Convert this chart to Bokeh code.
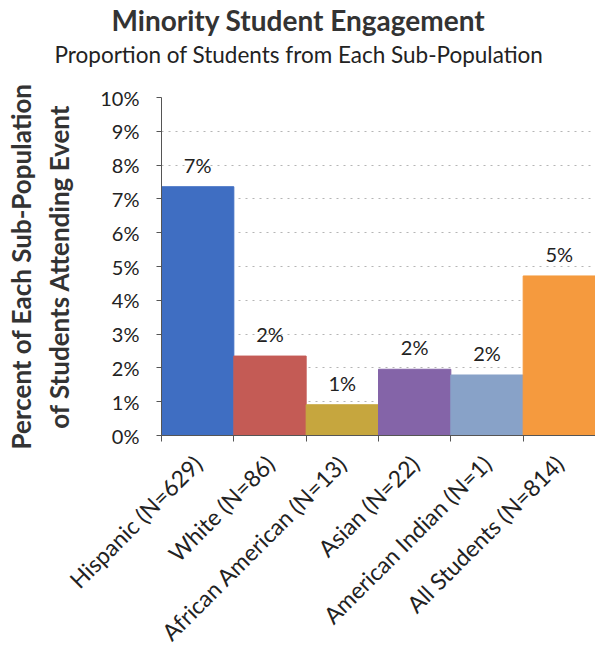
from bokeh.plotting import figure
from bokeh.models import ColumnDataSource, FixedTicker, PrintfTickFormatter, Range1d, Title
from bokeh.core.properties import value
from bokeh.embed import file_html
from bokeh.resources import INLINE

categories = ["Hispanic (N=629)", "White (N=86)", "African American (N=13)",
              "Asian (N=22)", "American Indian (N=1)", "All Students (N=814)"]
percents = [7.36, 2.35, 0.91, 1.96, 1.79, 4.72]
colors = ["#3f6ec2", "#c45b55", "#c6a63e", "#8464a8", "#88a2c8", "#f59a3e"]
y_ticks = [0, 1, 2, 3, 4, 5, 6, 7, 8, 9, 10]

n = len(categories)
xs = [i + 0.5 for i in range(n)]
labels = ["%d%%" % round(v) for v in percents]

src = ColumnDataSource(dict(x=xs, top=percents, color=colors, label=labels))

FONT = "Lato"

p = figure(width=595, height=658, output_backend="svg", toolbar_location=None,
           x_range=Range1d(0, n), y_range=Range1d(0, 10),
           min_border_left=161, min_border_right=0, min_border_top=96,
           min_border_bottom=221)
p.outline_line_color = None
p.background_fill_color = "white"
p.border_fill_color = "white"

# spacer between frame and subtitle
p.add_layout(Title(text=" ", text_font=FONT, text_font_size="16px",
                   align="left", standoff=7), "above")
p.add_layout(Title(text="Proportion of Students from Each Sub-Population",
                   text_font=FONT, text_font_size="22.5px", text_font_style="normal",
                   text_color="#222222", align="left", offset=-107, standoff=4), "above")
p.add_layout(Title(text="Minority Student Engagement",
                   text_font=FONT, text_font_size="28px", text_font_style="bold",
                   text_color="#333333", align="left", offset=-50, standoff=0), "above")

p.vbar(x="x", top="top", width=1.0, bottom=0, source=src, fill_color="color",
       line_color="color", line_width=1)
p.text(x="x", y="top", text="label", source=src, text_align="center",
       text_baseline="middle", y_offset=-22, text_font=value(FONT),
       text_font_size="20px", text_color="#222222")

# grid
p.xgrid.grid_line_color = None
p.ygrid.ticker = FixedTicker(ticks=y_ticks)
p.ygrid.grid_line_color = "#b5b5b5"
p.ygrid.grid_line_dash = "2 5"
p.ygrid.grid_line_width = 1

# y axis
p.yaxis.ticker = FixedTicker(ticks=y_ticks)
p.yaxis.formatter = PrintfTickFormatter(format="%d%%")
p.yaxis.major_label_text_font = FONT
p.yaxis.major_label_text_font_size = "20px"
p.yaxis.major_label_text_color = "#222222"
p.yaxis.major_label_standoff = 17
p.yaxis.axis_line_color = "#555555"
p.yaxis.major_tick_line_color = "#555555"
p.yaxis.major_tick_out = 5
p.yaxis.major_tick_in = 0
p.yaxis.minor_tick_line_color = None
p.yaxis.axis_label = "Percent of Each Sub-Population\nof Students Attending Event"
p.yaxis.axis_label_text_font = FONT
p.yaxis.axis_label_text_font_size = "26px"
p.yaxis.axis_label_text_font_style = "bold"
p.yaxis.axis_label_text_color = "#333333"
p.yaxis.axis_label_standoff = 22

# x axis: labels at centers, ticks at boundaries
p.xaxis.ticker = FixedTicker(ticks=xs, minor_ticks=list(range(n + 1)))
p.xaxis.major_label_overrides = {x: c for x, c in zip(xs, categories)}
p.xaxis.major_label_orientation = 0.785
p.xaxis.major_label_text_font = FONT
p.xaxis.major_label_text_font_size = "23px"
p.xaxis.major_label_text_color = "#222222"
p.xaxis.major_label_standoff = 18
p.xaxis.major_tick_line_color = None
p.xaxis.minor_tick_line_color = "#555555"
p.xaxis.minor_tick_out = 6
p.xaxis.minor_tick_in = 0
p.xaxis.axis_line_color = "#555555"

open("out.html", "w").write(file_html(p, INLINE))
